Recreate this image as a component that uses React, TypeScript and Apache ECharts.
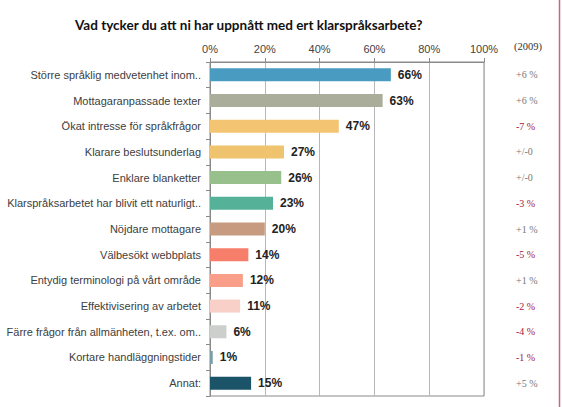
import React, { useEffect, useRef } from "react";
import * as echarts from "echarts";

const title = "Vad tycker du att ni har uppnått med ert klarspråksarbete?";
const categories = [
  "Större språklig medvetenhet inom..",
  "Mottagaranpassade texter",
  "Ökat intresse för språkfrågor",
  "Klarare beslutsunderlag",
  "Enklare blanketter",
  "Klarspråksarbetet har blivit ett naturligt..",
  "Nöjdare mottagare",
  "Välbesökt webbplats",
  "Entydig terminologi på vårt område",
  "Effektivisering av arbetet",
  "Färre frågor från allmänheten, t.ex. om..",
  "Kortare handläggningstider",
  "Annat:",
];
const values = [66, 63, 47, 27, 26, 23, 20, 14, 12, 11, 6, 1, 15];
const changes2009 = ["+6 %", "+6 %", "-7 %", "+/-0", "+/-0", "-3 %", "+1 %", "-5 %", "+1 %", "-2 %", "-4 %", "-1 %", "+5 %"];
const yearLabel = "(2009)";
const xTicks = [0, 20, 40, 60, 80, 100];
const barColors = [
  "#4a9bc1", "#a9ad9a", "#f3c572", "#f0c46e", "#98c08c", "#55b298", "#c79b7f",
  "#f77e6a", "#f99f89", "#f8d0c8", "#cccfcc", "#7a9ea8", "#1b5369",
];

export default function App() {
  const ref = useRef<HTMLDivElement>(null);
  useEffect(() => {
    if (!ref.current) return;
    const chart = echarts.init(ref.current, null, { renderer: "svg" });
    chart.setOption({
      animation: false,
      backgroundColor: "#ffffff",
      title: {
        text: title,
        left: 70,
        top: 13,
        textStyle: { fontFamily: "Lato", fontWeight: "bold", fontSize: 13.5, color: "#111" },
      },
      grid: {
        left: 210,
        right: 78,
        top: 62,
        bottom: 11,
        show: true,
        borderColor: "#8a8a8a",
        borderWidth: 1,
        containLabel: false,
      },
      xAxis: {
        type: "value",
        position: "top",
        min: 0,
        max: 100,
        interval: 20,
        axisLine: { show: true, lineStyle: { color: "#8a8a8a" } },
        axisTick: { show: true, length: 4, lineStyle: { color: "#8a8a8a" } },
        splitLine: { show: true, lineStyle: { color: "#b8b8b8" } },
        axisLabel: {
          margin: 8,
          color: "#444",
          fontFamily: "Liberation Sans",
          fontSize: 11,
          formatter: (v: number) => (xTicks.includes(v) ? v + "%" : ""),
        },
      },
      yAxis: [
        {
          type: "category",
          data: categories,
          inverse: true,
          axisLine: { show: true, lineStyle: { color: "#8a8a8a" } },
          axisTick: { show: true, length: 4, lineStyle: { color: "#8a8a8a" } },
          axisLabel: {
            margin: 9,
            color: "#404040",
            fontFamily: "Liberation Sans",
            fontSize: 11,
          },
        },
        {
          type: "category",
          data: changes2009,
          inverse: true,
          position: "right",
          axisLine: { show: false },
          axisTick: { show: false },
          axisLabel: {
            margin: 32,
            align: "left",
            fontFamily: "Liberation Serif",
            fontSize: 10,
            formatter: (v: string) => (v.startsWith("-") ? "{neg|" + v + "}" : "{pos|" + v + "}"),
            rich: {
              neg: { color: "#a3203a", fontFamily: "Liberation Serif", fontSize: 10 },
              pos: { color: "#777777", fontFamily: "Liberation Serif", fontSize: 10 },
            },
          },
        },
      ],
      series: [
        {
          type: "bar",
          yAxisIndex: 0,
          barWidth: 13,
          data: values.map((v, i) => ({ value: v, itemStyle: { color: barColors[i] } })),
          label: {
            show: true,
            position: "right",
            distance: 7,
            formatter: "{c}%",
            fontFamily: "Liberation Sans",
            fontWeight: "bold",
            fontSize: 12,
            color: "#222",
          },
        },
      ],
      graphic: [
        {
          type: "text",
          left: 514,
          top: 41,
          style: { text: yearLabel, fontFamily: "Liberation Serif", fontSize: 10.5, fill: "#333" },
        },
        {
          type: "line",
          shape: { x1: 559.5, y1: 0, x2: 559.5, y2: 407 },
          style: { stroke: "#d4627c", lineWidth: 1.5 },
        },
      ],
    });
    return () => chart.dispose();
  }, []);
  return (
    <div
      ref={ref}
      style={{ position: "fixed", left: 0, top: 0, width: 562, height: 407, background: "#fff" }}
    />
  );
}
